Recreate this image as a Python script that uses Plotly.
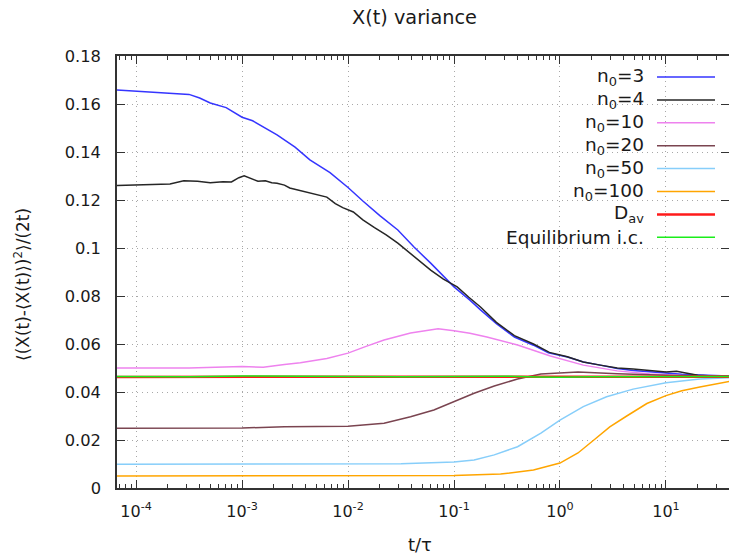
import numpy as np
import plotly.graph_objects as go

# ---- data (log10 of t/tau, and variance values) ----
logt_n3 = [-4.18, -4.0, -3.68, -3.5, -3.4, -3.3, -3.15, -3.0, -2.9, -2.8, -2.67, -2.5, -2.36, -2.17, -2.0,
           -1.86, -1.7, -1.53, -1.38, -1.22, -1.1, -1.0, -0.85, -0.75, -0.6, -0.43, -0.25, -0.11, 0.07, 0.22,
           0.38, 0.54, 0.69, 0.85, 1.0, 1.15, 1.32, 1.6]
val_n3 = [0.1658, 0.1654, 0.1646, 0.1640, 0.1625, 0.1604, 0.1585, 0.1545, 0.1530, 0.1505, 0.1471, 0.1420,
          0.1367, 0.1314, 0.1252, 0.1196, 0.1135, 0.1075, 0.1005, 0.0937, 0.0885, 0.0838, 0.0783, 0.0742,
          0.0685, 0.0629, 0.0595, 0.0563, 0.0546, 0.0525, 0.0512, 0.0498, 0.0490, 0.0484, 0.0479, 0.0474,
          0.0471, 0.0467]

logt_n4 = [-4.18, -4.0, -3.8, -3.68, -3.55, -3.42, -3.3, -3.18, -3.1, -3.03, -2.98, -2.92, -2.85, -2.78,
           -2.72, -2.67, -2.6, -2.55, -2.45, -2.36, -2.3, -2.2, -2.12, -2.05, -1.95, -1.86, -1.75, -1.64,
           -1.53, -1.42, -1.32, -1.22, -1.1, -0.97, -0.86, -0.75, -0.6, -0.43, -0.25, -0.1, 0.07, 0.22,
           0.38, 0.54, 0.69, 0.85, 1.0, 1.1, 1.18, 1.3, 1.45, 1.6]
val_n4 = [0.1260, 0.1262, 0.1265, 0.1267, 0.1280, 0.1278, 0.1272, 0.1276, 0.1275, 0.1293, 0.1301, 0.1290,
          0.1278, 0.1280, 0.1272, 0.1270, 0.1262, 0.1250, 0.1240, 0.1229, 0.1222, 0.1212, 0.1185, 0.1168,
          0.1150, 0.1117, 0.1085, 0.1055, 0.1020, 0.0980, 0.0945, 0.0908, 0.0870, 0.0838, 0.0795, 0.0754,
          0.0690, 0.0635, 0.0600, 0.0565, 0.0547, 0.0525, 0.0512, 0.0500, 0.0496, 0.0488, 0.0483, 0.0486,
          0.0480, 0.0470, 0.0467, 0.0466]

logt_n10 = [-4.18, -3.5, -3.0, -2.8, -2.6, -2.45, -2.2, -2.0, -1.83, -1.66, -1.41, -1.25, -1.15, -1.0,
            -0.85, -0.69, -0.4, -0.09, 0.22, 0.54, 0.85, 1.2, 1.6]
val_n10 = [0.0500, 0.0500, 0.0506, 0.0503, 0.0515, 0.0522, 0.0540, 0.0562, 0.0590, 0.0617, 0.0646, 0.0657,
           0.0663, 0.0655, 0.0645, 0.0629, 0.0596, 0.0550, 0.0512, 0.0488, 0.0475, 0.0468, 0.0465]

logt_n20 = [-4.18, -3.0, -2.6, -2.0, -1.66, -1.41, -1.19, -1.0, -0.81, -0.62, -0.4, -0.18, 0.17, 0.54,
            1.0, 1.6]
val_n20 = [0.0249, 0.0250, 0.0255, 0.0257, 0.0270, 0.0297, 0.0325, 0.0360, 0.0395, 0.0425, 0.0454, 0.0475,
           0.0483, 0.0476, 0.0470, 0.0466]

logt_n50 = [-4.18, -3.5, -3.0, -2.5, -1.5, -1.0, -0.81, -0.62, -0.4, -0.18, 0.0, 0.22, 0.44, 0.69, 1.0,
            1.32, 1.6]
val_n50 = [0.0099, 0.0100, 0.0101, 0.0100, 0.0101, 0.0108, 0.0117, 0.0138, 0.0172, 0.0229, 0.0283, 0.0339,
           0.0380, 0.0412, 0.0439, 0.0454, 0.0460]

logt_n100 = [-4.18, -2.0, -1.0, -0.56, -0.25, 0.0, 0.17, 0.32, 0.47, 0.63, 0.82, 1.0, 1.15, 1.32, 1.6]
val_n100 = [0.0050, 0.0050, 0.0052, 0.0058, 0.0075, 0.0104, 0.0146, 0.0200, 0.0255, 0.0300, 0.0352, 0.0385,
            0.0405, 0.0421, 0.0444]

logt_dav = [-4.18, -3.0, -2.0, -1.0, 0.0, 1.0, 1.6]
val_dav = [0.0463, 0.0463, 0.0464, 0.0463, 0.0463, 0.0464, 0.0464]

logt_eq = [-4.18, -3.5, -3.0, -2.5, -2.0, -1.5, -1.0, -0.5, -0.2, 0.0, 0.3, 0.7, 1.0, 1.3, 1.6]
val_eq = [0.0465, 0.0464, 0.0467, 0.0465, 0.0466, 0.0464, 0.0465, 0.0466, 0.0462, 0.0461, 0.0464, 0.0465,
          0.0464, 0.0465, 0.0465]

series_names = ["n<sub>0</sub>=3", "n<sub>0</sub>=4", "n<sub>0</sub>=10", "n<sub>0</sub>=20",
                "n<sub>0</sub>=50", "n<sub>0</sub>=100", "D<sub>av</sub>", "Equilibrium i.c."]
series_colors = ["#3535ff", "#262626", "#ee82ee", "#7a4450", "#87cefa", "#ffa500", "#ff1a1a", "#1aee1a"]
series_widths = [1.5, 1.5, 1.5, 1.5, 1.5, 1.5, 2.5, 1.5]
series_data = [(logt_n3, val_n3), (logt_n4, val_n4), (logt_n10, val_n10), (logt_n20, val_n20),
               (logt_n50, val_n50), (logt_n100, val_n100), (logt_dav, val_dav), (logt_eq, val_eq)]

FONT = "DejaVu Sans"
TXT = "#1a1a1a"
W, H = 729, 555
L, R, T, B = 117, 0, 56, 67
pw, ph = W - L - R, H - T - B


def px(x):
    return (x - L) / pw


def py(y):
    return (H - B - y) / ph


fig = go.Figure()
for name, color, width, (lt, v) in zip(series_names, series_colors, series_widths, series_data):
    fig.add_trace(go.Scatter(x=10 ** np.array(lt), y=v, mode="lines", name=name,
                             line=dict(color=color, width=width), showlegend=False))

# manual gnuplot-style legend: text on the left, sample line on the right
annotations = []
shapes = []
for i, (name, color, width) in enumerate(zip(series_names, series_colors, series_widths)):
    yy = 77 + i * 22.9
    annotations.append(dict(x=px(646), y=py(yy), xref="paper", yref="paper", text=name,
                            showarrow=False, xanchor="right", yanchor="middle",
                            font=dict(family=FONT, size=18.5, color=TXT)))
    shapes.append(dict(type="line", xref="paper", yref="paper", x0=px(657), x1=px(715),
                       y0=py(yy), y1=py(yy), line=dict(color=color, width=width)))

annotations.append(dict(x=px(420), y=py(544), xref="paper", yref="paper", text="t/τ", showarrow=False,
                        xanchor="center", yanchor="middle", font=dict(family=FONT, size=18, color=TXT)))
annotations.append(dict(x=px(22), y=py(285), xref="paper", yref="paper",
                        text="⟨(X(t)-⟨X(t)⟩)<sup>2</sup>⟩/(2t)", showarrow=False, textangle=-90,
                        xanchor="center", yanchor="middle", font=dict(family=FONT, size=17, color=TXT)))
annotations.append(dict(x=px(414), y=py(17), xref="paper", yref="paper", text="X(t) variance",
                        showarrow=False, xanchor="center", yanchor="middle",
                        font=dict(family=FONT, size=19.3, color=TXT)))

xtick_vals = [1e-4, 1e-3, 1e-2, 1e-1, 1e0, 1e1]
xtick_text = ["10<sup>-4</sup>", "10<sup>-3</sup>", "10<sup>-2</sup>", "10<sup>-1</sup>",
              "10<sup>0</sup>", "10<sup>1</sup>"]
minor_vals = [m * 10.0 ** k for k in range(-5, 2) for m in range(2, 10)]
ytick_vals = [0, 0.02, 0.04, 0.06, 0.08, 0.1, 0.12, 0.14, 0.16, 0.18]
ytick_text = ["0", "0.02", "0.04", "0.06", "0.08", "0.1", "0.12", "0.14", "0.16", "0.18"]

GRID = dict(showgrid=True, gridcolor="#a8a8a8", griddash="1px,4px", gridwidth=1)

fig.update_layout(
    width=W, height=H, margin=dict(l=L, r=R, t=T, b=B, autoexpand=False),
    paper_bgcolor="white", plot_bgcolor="white",
    annotations=annotations, shapes=shapes,
    xaxis=dict(type="log", range=[-4.18, 1.595], tickvals=xtick_vals, ticktext=xtick_text,
               ticks="inside", ticklen=8, tickcolor="#333333", mirror="ticks",
               showline=True, linecolor="#333333", linewidth=1.5,
               zeroline=False, ticklabelstandoff=8,
               tickfont=dict(family=FONT, size=16, color=TXT),
               minor=dict(tickvals=minor_vals, ticks="inside", ticklen=4, tickcolor="#333333",
                          showgrid=False), **GRID),
    yaxis=dict(range=[0, 0.18], tickvals=ytick_vals, ticktext=ytick_text,
               ticks="inside", ticklen=8, tickcolor="#333333", mirror="ticks",
               showline=True, linecolor="#333333", linewidth=1.5,
               zeroline=False, ticklabelstandoff=11,
               tickfont=dict(family=FONT, size=16.3, color=TXT), **GRID),
)

fig.write_html("out.html", config={"displayModeBar": False},
               post_script="document.body.style.margin='0';document.body.style.padding='0';"
                           "document.body.style.overflow='hidden';")
